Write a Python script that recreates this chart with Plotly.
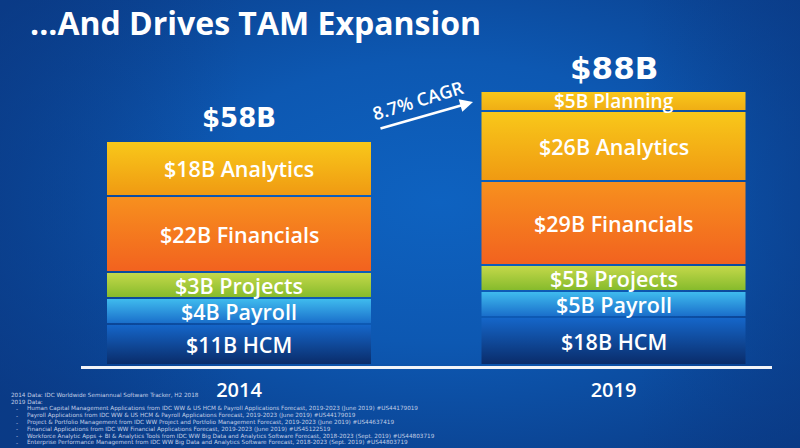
import base64
import plotly.graph_objects as go

# ---------------- data ----------------
years = ["2014", "2019"]
segments_2014 = ["HCM", "Payroll", "Projects", "Financials", "Analytics"]
values_2014 = [11, 4, 3, 22, 18]            # $B (labels)
drawn_2014 = [39, 26, 26, 76, 55]           # drawn segment heights (as in the picture)
segments_2019 = ["HCM", "Payroll", "Projects", "Financials", "Analytics", "Planning"]
values_2019 = [18, 5, 5, 29, 26, 5]         # $B (labels)
drawn_2019 = [46, 26, 26, 84, 70, 20]       # drawn segment heights (as in the picture)
cagr_label = "8.7% CAGR"
title_text = "...And Drives TAM Expansion"
footnotes = [
    "2014 Data: IDC Worldwide Semiannual Software Tracker, H2 2018",
    "2019 Data:",
    "Human Capital Management Applications from IDC WW & US HCM & Payroll Applications Forecast, 2019-2023 (June 2019) #US44179019",
    "Payroll Applications from IDC WW & US HCM & Payroll Applications Forecast, 2019-2023 (June 2019) #US44179019",
    "Project & Portfolio Management from IDC WW Project and Portfolio Management Forecast, 2019-2023 (June 2019) #US44637419",
    "Financial Applications from IDC WW Financial Applications Forecast, 2019-2023 (June 2019) #US45122519",
    "Workforce Analytic Apps + BI & Analytics Tools from IDC WW Big Data and Analytics Software Forecast, 2018-2023 (Sept. 2019) #US44803719",
    "Enterprise Performance Management from IDC WW Big Data and Analytics Software Forecast, 2018-2023 (Sept. 2019) #US44803719",
]

# ---------------- styles ----------------
gradients = {  # (bottom, top)
    "HCM": ("#0a2c6a", "#1566c9"),
    "Payroll": ("#1a6fcb", "#3fbbee"),
    "Projects": ("#86bb2c", "#c4d84a"),
    "Financials": ("#f2621f", "#f7901e"),
    "Analytics": ("#f09a12", "#f8c81a"),
    "Planning": ("#f0ae14", "#f8c71b"),
}
W, H = 800, 448
ML, MR, MT, MB = 81, 28, 40, 82
PX_PER_X = 374.5
X0_PX = 239
x_range = [(ML - X0_PX) / PX_PER_X, (W - MR - X0_PX) / PX_PER_X]
y_range = [-2, H - MB - MT - 2]
bar_w = 264 / PX_PER_X
gap = 2
label_font = "Open Sans"
total_sizes = [26, 31]
white = "#ffffff"
foot_color = "#c3cfe6"

fig = go.Figure()
annotations = []

for xi, (segs, vals, drawn) in enumerate(
    [(segments_2014, values_2014, drawn_2014), (segments_2019, values_2019, drawn_2019)]
):
    base = 0
    for i, (s, v, h) in enumerate(zip(segs, vals, drawn)):
        y0 = base + (gap if i > 0 else 0)
        y1 = base + h
        xl, xr = xi - bar_w / 2, xi + bar_w / 2
        bot, top = gradients[s]
        fig.add_trace(go.Scatter(
            x=[xl, xr, xr, xl, xl], y=[y0, y0, y1, y1, y0],
            mode="lines", fill="toself",
            fillgradient=dict(type="vertical", colorscale=[[0, bot], [1, top]]),
            fillcolor=top,
            line=dict(width=0, color="rgba(0,0,0,0)"),
            hoverinfo="skip", showlegend=False,
        ))
        annotations.append(dict(
            x=xi, y=(y0 + y1) / 2, xref="x", yref="y", showarrow=False,
            text=f"${v}B {s}",
            font=dict(family=label_font, size=19 if h < 24 else 21.5, color=white, weight=600),
            xanchor="center", yanchor="middle", borderpad=0,
        ))
        base += h
    annotations.append(dict(
        x=xi, y=base + 24, xref="x", yref="y", showarrow=False,
        text=f"<b>${sum(vals)}B</b>",
        font=dict(family="DejaVu Sans", size=total_sizes[xi], color=white),
        xanchor="center", yanchor="middle",
    ))

# CAGR arrow + label
annotations.append(dict(
    x=(473 - X0_PX) / PX_PER_X, y=364 - 102, xref="x", yref="y", ax=-94, ay=27,
    showarrow=True, arrowhead=2, arrowsize=1.0, arrowwidth=2.6, arrowcolor=white, text="",
))
annotations.append(dict(
    x=(418 - X0_PX) / PX_PER_X, y=364 - 100, xref="x", yref="y", showarrow=False,
    text=cagr_label, textangle=-17,
    font=dict(family=label_font, size=18, color=white, weight=600),
))

# helpers for pixel -> paper
def px_x(p):
    return (p - ML) / (W - ML - MR)

def px_y(p):
    return (H - MB - p) / (H - MB - MT)

annotations.append(dict(
    x=px_x(29), y=px_y(22), xref="paper", yref="paper", showarrow=False,
    text=f"<b>{title_text}</b>", xanchor="left", yanchor="middle", borderpad=0,
    font=dict(family="Open Sans", size=32, color=white),
))

foot_y = [395, 402, 409, 415.5, 422.5, 429, 436, 442.5]
foot_font = dict(family="DejaVu Sans", size=5.7, color=foot_color)
for i, t in enumerate(footnotes):
    if i < 2:
        annotations.append(dict(
            x=px_x(9), y=px_y(foot_y[i]), xref="paper", yref="paper", showarrow=False,
            text=t, xanchor="left", yanchor="middle", font=foot_font,
        ))
    else:
        annotations.append(dict(
            x=px_x(14), y=px_y(foot_y[i]), xref="paper", yref="paper", showarrow=False,
            text="-", xanchor="left", yanchor="middle", font=foot_font,
        ))
        annotations.append(dict(
            x=px_x(25), y=px_y(foot_y[i]), xref="paper", yref="paper", showarrow=False,
            text=t, xanchor="left", yanchor="middle", font=foot_font,
        ))

# background gradient (svg data uri)
svg = f"""<svg xmlns='http://www.w3.org/2000/svg' width='{W}' height='{H}'>
<defs>
<radialGradient id='g' cx='55%' cy='45%' r='70%' fx='55%' fy='45%'>
<stop offset='0%' stop-color='#0e62c0'/>
<stop offset='45%' stop-color='#0d58b2'/>
<stop offset='100%' stop-color='#0a3b86'/>
</radialGradient>
<linearGradient id='l' x1='0' y1='0' x2='1' y2='0'>
<stop offset='0%' stop-color='#0a3a86' stop-opacity='0.55'/>
<stop offset='30%' stop-color='#0a3a86' stop-opacity='0'/>
<stop offset='80%' stop-color='#0a3a86' stop-opacity='0'/>
<stop offset='100%' stop-color='#0a3a86' stop-opacity='0.5'/>
</linearGradient>
</defs>
<rect width='100%' height='100%' fill='url(#g)'/>
<rect width='100%' height='100%' fill='url(#l)'/>
</svg>"""
svg_uri = "data:image/svg+xml;base64," + base64.b64encode(svg.encode()).decode()

fig.update_layout(
    width=W, height=H,
    margin=dict(l=ML, r=MR, t=MT, b=MB),
    paper_bgcolor="#0c4ea2", plot_bgcolor="rgba(0,0,0,0)",
    images=[dict(
        source=svg_uri, xref="paper", yref="paper",
        x=px_x(0), y=px_y(0), sizex=W / (W - ML - MR), sizey=H / (H - MB - MT),
        xanchor="left", yanchor="top", sizing="stretch", layer="below",
    )],
    annotations=annotations,
    showlegend=False,
    xaxis=dict(
        range=x_range, showgrid=False, zeroline=False, showline=True,
        linecolor="#f2f4f8", linewidth=2.5, ticks="", tickvals=[0, 1], ticktext=years,
        tickfont=dict(family=label_font, size=20, color=white, weight=600),
        ticklabelstandoff=4, fixedrange=True,
    ),
    yaxis=dict(range=y_range, visible=False, fixedrange=True),
)

fig.write_html(
    "out.html",
    config={"displayModeBar": False},
    post_script="document.body.style.margin='0';document.body.style.overflow='hidden';",
)
